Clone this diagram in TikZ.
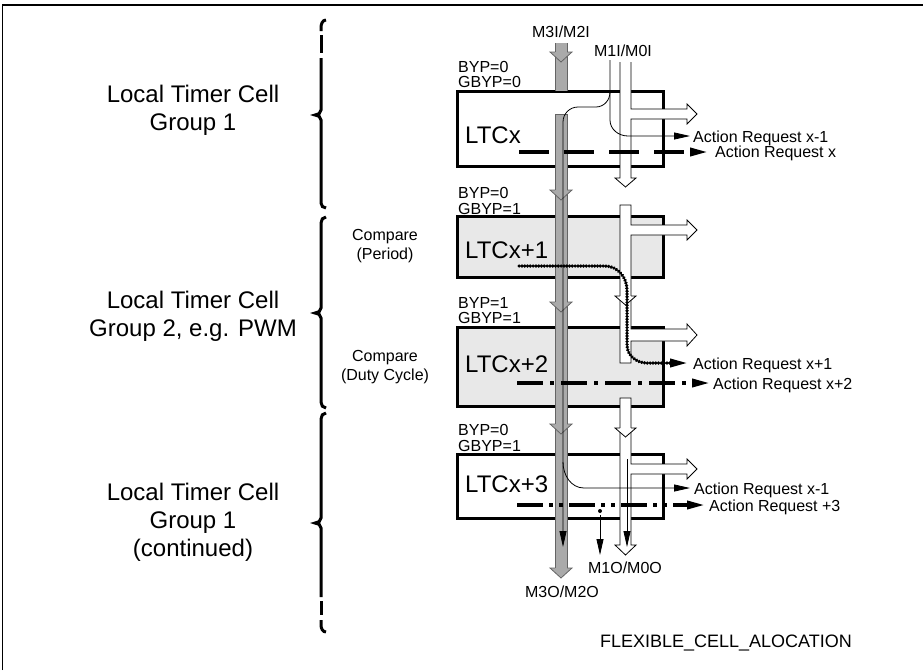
\documentclass[tikz,border=0pt]{standalone}
\usepackage{fontspec}
\setmainfont{Liberation Sans}
\usetikzlibrary{arrows.meta}
\definecolor{busgray}{RGB}{170,170,170}
\definecolor{busedge}{RGB}{100,100,100}
\definecolor{cellgray}{RGB}{232,232,232}
\newcommand{\grayhead}[2]{%
  \fill[busgray] (#1-11,#2) -- (#1+11,#2) -- (#1,#2+10) -- cycle;
  \draw[busedge,line width=0.8pt] (#1-6,#2) -- (#1-11,#2) -- (#1,#2+10) -- (#1+11,#2) -- (#1+6,#2);}
\newcommand{\whitehead}[2]{%
  \fill[white] (#1-10.5,#2) -- (#1+10.5,#2) -- (#1,#2+9) -- cycle;
  \draw[black,line width=0.8pt] (#1-5.5,#2) -- (#1-10.5,#2) -- (#1,#2+9) -- (#1+10.5,#2) -- (#1+5.5,#2);}
\begin{document}
\begin{tikzpicture}[x=1pt,y=-1pt,
  cellbox/.style={draw=black,line width=3pt,minimum width=206pt,inner sep=0pt},
  biglbl/.style={font=\fontsize{24}{28}\selectfont,align=center,inner sep=0pt},
  cellname/.style={font=\fontsize{24}{28}\selectfont,anchor=base west,inner sep=0pt},
  smalllbl/.style={font=\fontsize{16}{19}\selectfont,inner sep=0pt},
  thinline/.style={line width=0.8pt},
  thintip/.style={-{Triangle[length=16pt,width=7pt]}},
  thicktip/.style={-{Triangle[length=18pt,width=8pt]}},
  sigline/.style={line width=3.5pt},
  bracepath/.style={line width=3pt},
  whitebus/.style={fill=white,draw=black,line width=0.8pt}]
\useasboundingbox (0,0) rectangle (923,670);
\draw[line width=1.5pt] (2.5,670) -- (2.5,5) -- (923,5);

% group labels
\node[biglbl] (g1) at (193,110) {Local Timer Cell\\Group 1};
\node[biglbl] (g2) at (193,316.5) {Local Timer Cell\\Group 2, e.g. PWM};
\node[biglbl] (g3) at (193,522) {Local Timer Cell\\Group 1\\(continued)};
\node[smalllbl,align=center] (cmp1) at (385,246) {Compare\\(Period)};
\node[smalllbl,align=center] (cmp2) at (385,367) {Compare\\(Duty Cycle)};

% braces
\draw[bracepath] (326,20) to[out=180,in=90] (321,28) -- (321,31);
\draw[bracepath] (321,35) -- (321,53);
\draw[bracepath] (321,58) -- (321,110) to[out=-90,in=0] (315,115) to[out=0,in=90] (321,120) -- (321,203) to[out=-90,in=180] (326,208);
\draw[bracepath] (326,217) to[out=180,in=90] (321,223) -- (321,308) to[out=-90,in=0] (315,313) to[out=0,in=90] (321,318) -- (321,402) to[out=-90,in=180] (326,408);
\draw[bracepath] (326,413) to[out=180,in=90] (321,419) -- (321,518) to[out=-90,in=0] (315,523) to[out=0,in=90] (321,528) -- (321,597);
\draw[bracepath] (321,601) -- (321,615);
\draw[bracepath] (321,620) -- (321,625) to[out=-90,in=180] (326,632);

% cells
\node[cellbox,fill=white,minimum height=75pt] (c0) at (560,128.5) {};
\node[cellbox,fill=cellgray,minimum height=61pt] (c1) at (560,246.5) {};
\node[cellbox,fill=cellgray,minimum height=79pt] (c2) at (560,366.5) {};
\node[cellbox,fill=white,minimum height=64pt] (c3) at (560,486) {};
\node[cellname] (n0) at (465,143) {LTCx};
\node[cellname] (n1) at (465,258) {LTCx+1};
\node[cellname] (n2) at (465,372) {LTCx+2};
\node[cellname] (n3) at (465,492) {LTCx+3};

% BYP labels
\node[smalllbl,anchor=base west] (b0a) at (458,72) {BYP=0};
\node[smalllbl,anchor=base west] (b0b) at (458,87) {GBYP=0};
\node[smalllbl,anchor=base west] (b1a) at (458,198) {BYP=0};
\node[smalllbl,anchor=base west] (b1b) at (458,214) {GBYP=1};
\node[smalllbl,anchor=base west] (b2a) at (458,308) {BYP=1};
\node[smalllbl,anchor=base west] (b2b) at (458,323) {GBYP=1};
\node[smalllbl,anchor=base west] (b3a) at (458,435) {BYP=0};
\node[smalllbl,anchor=base west] (b3b) at (458,451) {GBYP=1};

% gray bus
\fill[busgray] (555,43) rectangle (567,91);
\draw[busedge,line width=0.8pt] (555,43) -- (555,91) (567,43) -- (567,91);
\fill[busgray] (555,114) rectangle (567,568);
\draw[busedge,line width=0.8pt] (555,568) -- (555,114) -- (567,114) -- (567,568);
\grayhead{561}{52}
\grayhead{561}{190}
\grayhead{561}{302}
\grayhead{561}{424}
\grayhead{561}{568}

% white buses
\draw[whitebus] (620,62) -- (620,178) -- (615,178) -- (625.5,187) -- (636,178) -- (631,178) -- (631,119) -- (687,119) -- (687,124) -- (697,114) -- (687,104) -- (687,109) -- (631,109) -- (631,62);
\draw[whitebus] (620,205) -- (620,363) -- (631,363) -- (631,341) -- (687,341) -- (687,346) -- (697,335) -- (687,324) -- (687,329) -- (631,329) -- (631,235) -- (687,235) -- (687,240) -- (697,230) -- (687,220) -- (687,225) -- (631,225) -- (631,205) -- cycle;
\whitehead{625.5}{296}
\draw[whitebus] (620,398) -- (620,545) -- (615,545) -- (625.5,555) -- (636,545) -- (631,545) -- (631,474) -- (687,474) -- (687,479) -- (697,469) -- (687,459) -- (687,464) -- (631,464) -- (631,398) -- cycle;
\whitehead{625.5}{428}

% thin lines
\draw[thinline,thintip] (610,60) -- (610,92) to[out=-90,in=0] (596,107) -- (578,107) to[out=180,in=90] (563,122) -- (563,547);
\draw[thinline,thintip] (610,92) -- (610,120) to[out=-90,in=180] (628,136) -- (690,136);
\draw[thinline,thintip] (563,462) to[out=-90,in=180] (584,488) -- (690,488);
\draw[thinline,thintip] (627,459) -- (627,547);
\fill (600,511) circle (2pt);
\draw[thinline,thintip] (600,515) -- (600,555);

% signal lines
\draw[sigline,thicktip,dash pattern=on 30pt off 15pt] (519,152) -- (708,152);
\draw[sigline,thicktip,line cap=round,dash pattern=on 0.2pt off 2.6pt] (519,266) -- (605,266) to[out=0,in=90] (627,290) -- (627,345) to[out=-90,in=180] (647,363) -- (688,363);
\draw[sigline,thicktip,dash pattern=on 26pt off 7pt on 4pt off 7pt] (517,383) -- (710,383);
\draw[sigline,thicktip,dash pattern=on 26pt off 6pt on 4pt off 6pt on 4pt off 6pt] (517,505) -- (705,505);

% action labels
\node[smalllbl,anchor=base west] (a0) at (693,142) {Action Request x-1};
\node[smalllbl,anchor=base west] (a1) at (715,157) {Action Request x};
\node[smalllbl,anchor=base west] (a2) at (693,369) {Action Request x+1};
\node[smalllbl,anchor=base west] (a3) at (713,389) {Action Request x+2};
\node[smalllbl,anchor=base west] (a4) at (694,494) {Action Request x-1};
\node[smalllbl,anchor=base west] (a5) at (709,511) {Action Request +3};

% bus labels
\node[smalllbl,anchor=base] (m3i) at (561,37) {M3I/M2I};
\node[smalllbl,anchor=base] (m1i) at (623,56) {M1I/M0I};
\node[smalllbl,anchor=base] (m1o) at (625,573) {M1O/M0O};
\node[smalllbl,anchor=base] (m3o) at (562,597) {M3O/M2O};
\node[font=\fontsize{18}{20}\selectfont,inner sep=0pt,anchor=base east] (flex) at (852,647) {FLEXIBLE\_CELL\_ALOCATION};
\end{tikzpicture}
\end{document}
